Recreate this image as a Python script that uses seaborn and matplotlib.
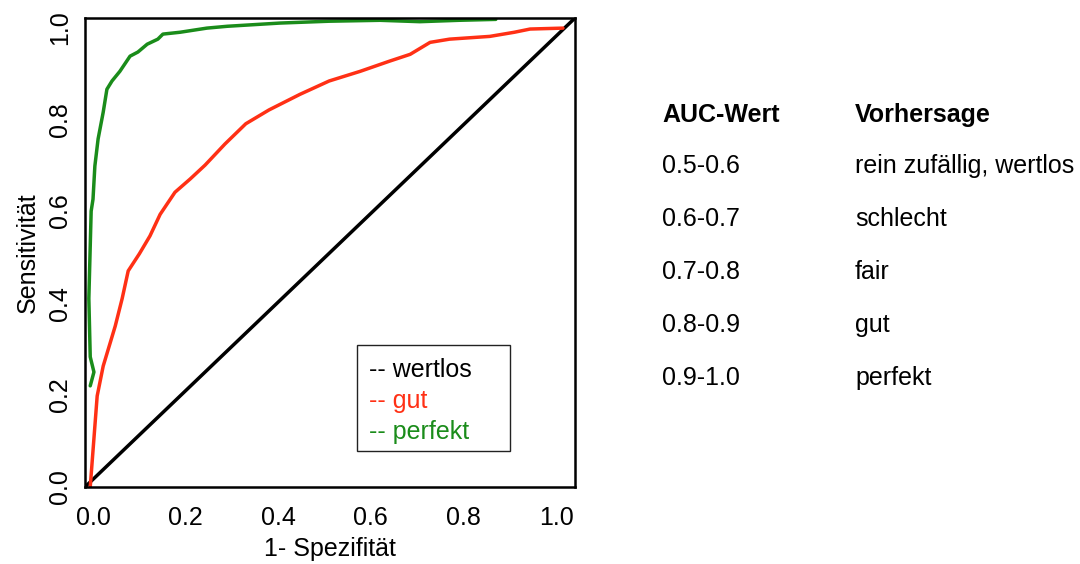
import matplotlib
matplotlib.use("Agg")
import matplotlib.pyplot as plt
from matplotlib.patches import Rectangle
import seaborn as sns
import pandas as pd

# ---- data ----
gut_x = [-0.006, 0.009, 0.022, 0.048, 0.063, 0.076, 0.10, 0.123, 0.145, 0.177, 0.21,
         0.242, 0.285, 0.33, 0.38, 0.447, 0.51, 0.577, 0.64, 0.685, 0.728, 0.77,
         0.857, 0.91, 0.944, 1.015]
gut_y = [0.0, 0.198, 0.263, 0.35, 0.41, 0.47, 0.507, 0.546, 0.593, 0.641, 0.67,
         0.70, 0.746, 0.79, 0.82, 0.854, 0.883, 0.904, 0.926, 0.941, 0.967, 0.974,
         0.98, 0.989, 0.996, 0.998]

perfekt_x = [-0.006, 0.002, -0.006, -0.009, -0.004, 0.0, 0.004, 0.011, 0.022, 0.03,
             0.041, 0.058, 0.08, 0.097, 0.117, 0.14, 0.151, 0.188, 0.246, 0.29,
             0.404, 0.51, 0.62, 0.706, 0.79, 0.87]
perfekt_y = [0.22, 0.25, 0.283, 0.41, 0.60, 0.626, 0.698, 0.757, 0.815, 0.865,
             0.883, 0.904, 0.937, 0.946, 0.963, 0.974, 0.985, 0.989, 0.998, 1.002,
             1.009, 1.013, 1.015, 1.012, 1.015, 1.017]

x_ticks = [0.0, 0.2, 0.4, 0.6, 0.8, 1.0]
y_ticks = [0.0, 0.2, 0.4, 0.6, 0.8, 1.0]
x_lim = (-0.0173, 1.041)
y_lim = (0.0, 1.02)

legend_labels = ["-- wertlos", "-- gut", "-- perfekt"]
legend_colors = ["black", "#FF3015", "#1A8C1A"]

table_header = ["AUC-Wert", "Vorhersage"]
auc_ranges = ["0.5-0.6", "0.6-0.7", "0.7-0.8", "0.8-0.9", "0.9-1.0"]
predictions = ["rein zufällig, wertlos", "schlecht", "fair", "gut", "perfekt"]

# ---- style ----
sns.set_theme(style="white")
plt.rcParams["font.family"] = ["Liberation Sans", "DejaVu Sans"]
plt.rcParams["text.color"] = "black"
plt.rcParams["axes.labelcolor"] = "black"
plt.rcParams["xtick.color"] = "black"
plt.rcParams["ytick.color"] = "black"
FS = 18

fig = plt.figure(figsize=(10.8, 5.64), dpi=100)
ax = fig.add_axes([85 / 1080, 1 - 487 / 564, 490 / 1080, 469 / 564])

df_gut = pd.DataFrame({"x": gut_x, "y": gut_y})
df_perf = pd.DataFrame({"x": perfekt_x, "y": perfekt_y})
df_diag = pd.DataFrame({"x": [x_lim[0], x_lim[1]], "y": [y_lim[0], y_lim[1]]})

sns.lineplot(data=df_diag, x="x", y="y", sort=False, estimator=None,
             color=legend_colors[0], lw=2.5, ax=ax)
sns.lineplot(data=df_gut, x="x", y="y", sort=False, estimator=None,
             color=legend_colors[1], lw=2.5, ax=ax)
sns.lineplot(data=df_perf, x="x", y="y", sort=False, estimator=None,
             color=legend_colors[2], lw=2.5, ax=ax)

ax.set_xlim(*x_lim)
ax.set_ylim(*y_lim)
ax.set_xticks(x_ticks)
ax.set_yticks(y_ticks)
ax.set_xticklabels([f"{v:.1f}" for v in x_ticks], fontsize=FS)
ax.set_yticklabels([f"{v:.1f}" for v in y_ticks], fontsize=FS, rotation=90, va="center")
ax.tick_params(axis="x", length=0, pad=14)
ax.tick_params(axis="y", length=0, pad=9)
for s in ax.spines.values():
    s.set_color("black")
    s.set_linewidth(1.8)

ax.set_xlabel("1- Spezifität", fontsize=FS, va="center")
ax.set_ylabel("Sensitivität", fontsize=FS, va="center")
ax.xaxis.set_label_coords(0.5, (487 - 549) / 469)
ax.yaxis.set_label_coords((28 - 85) / 490, 0.5)

# legend box (R-style text legend)
ax.add_patch(Rectangle(((357 - 85) / 490, (487 - 451) / 469), 153 / 490, 106 / 469,
                       transform=ax.transAxes, fill=False, edgecolor="#222222", lw=1.0))
for i, (lab, col) in enumerate(zip(legend_labels, legend_colors)):
    ax.text((369 - 85) / 490, (487 - (377 + 31 * i)) / 469, lab, color=col,
            fontsize=FS, va="baseline", ha="left", transform=ax.transAxes)

# table on the right
fig.text(662 / 1080, 1 - 122 / 564, table_header[0], fontsize=FS, fontweight="bold",
         va="baseline", ha="left")
fig.text(855 / 1080, 1 - 122 / 564, table_header[1], fontsize=FS, fontweight="bold",
         va="baseline", ha="left")
for i, (r, p) in enumerate(zip(auc_ranges, predictions)):
    yb = 1 - (173 + 53 * i) / 564
    fig.text(662 / 1080, yb, r, fontsize=FS, va="baseline", ha="left")
    fig.text(855 / 1080, yb, p, fontsize=FS, va="baseline", ha="left")

fig.savefig("out.png", dpi=100)
